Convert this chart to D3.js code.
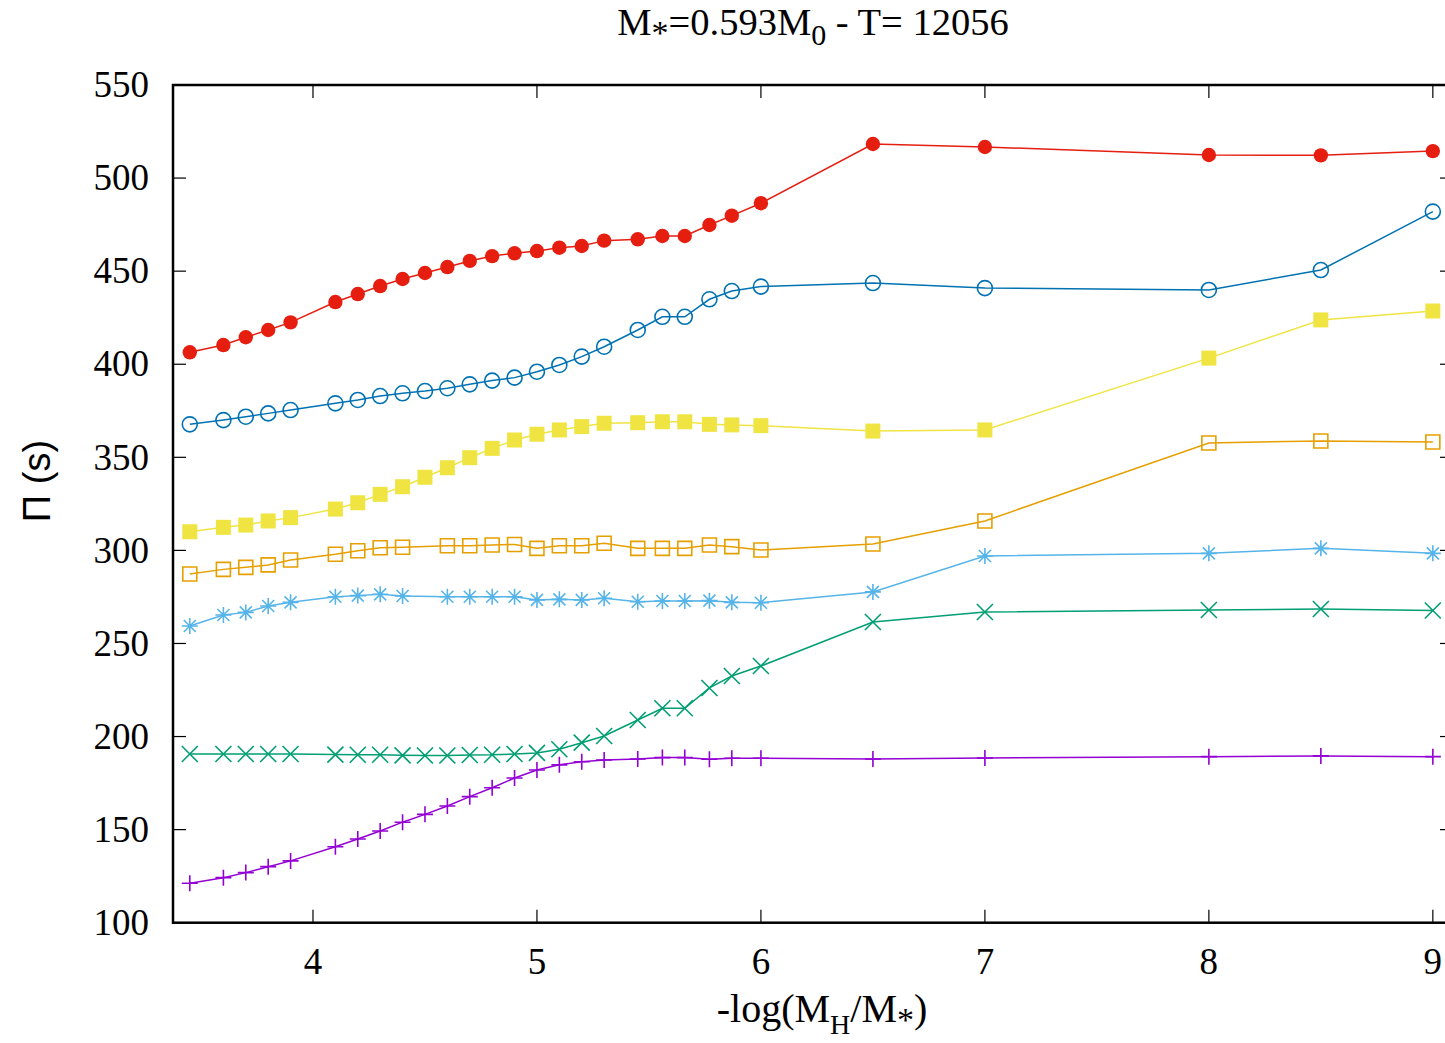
<!DOCTYPE html>
<html>
<head>
<meta charset="utf-8">
<script src="https://cdn.jsdelivr.net/npm/d3@7"></script>
<style>
  body { margin: 0; background: #fff; }
  svg { display: block; }
</style>
</head>
<body>
<div id="chart"></div>
<script>
// -log(MH/M*) values shared by every series
const logMH = [3.45, 3.6, 3.7, 3.8, 3.9, 4.1, 4.2, 4.3, 4.4, 4.5, 4.6, 4.7, 4.8, 4.9, 5.0,
  5.1, 5.2, 5.3, 5.45, 5.56, 5.66, 5.77, 5.87, 6.0, 6.5, 7, 8, 8.5, 9];

// periods (s), null where the mode is missing
const red = [406.4, 410.3, 414.5, 418.4, 422.5, 433.4, 437.7, 442, 445.8, 449, 452.2, 455.5, 458.1, 459.6, 460.8,
  462.6, 463.5, 466.4, 467.1, 468.9, 468.9, 474.8, 479.8, 486.5, 518.3, 516.7, 512.4, 512.2, 514.5];
const blue = [367.7, 370, 371.8, 373.6, 375.4, 379, 380.8, 382.9, 384.4, 385.6, 387.1, 389.2, 391.2, 392.8, 396,
  399.6, 404.1, 409.4, 418.4, 425.5, 425.5, 434.9, 439.3, 441.7, 443.6, 440.9, 439.9, 450.6, 482];
const yellow = [310, 312.4, 313.6, 315.8, 317.6, 322.2, 325.6, 330.1, 334.2, 339.3, 344.4, 349.8, 354.8, 359.3, 362.4,
  364.7, 366.5, 368.3, 368.6, 369.1, 369.1, 367.7, 367.4, 367, 364.1, 364.7, 403.3, 423.8, 428.6];
const orange = [287.3, 289.8, 290.9, 292.2, 294.8, 297.9, 299.8, 301.4, 301.7, null, 302.5, 302.5, 302.9, 303.2, 301.1,
  302.5, 302.5, 303.8, 301.1, 301.1, 301.1, 302.9, 302, 300.2, 303.4, 315.8, 357.7, 358.8, 358.2];
const cyan = [259.4, 265.3, 266.7, 270.1, 272.1, 275.1, 275.7, 276.4, 275.5, null, 275.1, 275.1, 275.1, 275.1, 273.4,
  273.7, 273.4, 274.3, 272.4, 272.8, 272.8, 273, 272.1, 271.9, 277.7, 297, 298.4, 301.1, 298.4];
const green = [190.6, 190.6, 190.6, 190.6, 190.6, 190.3, 190.2, 190.2, 189.9, 189.8, 189.8, 190.1, 190.2, 190.6, 191.2,
  193.2, 196.7, 200.3, 208.9, 215.2, 215.2, 226.1, 232.5, 237.9, 261.5, 266.9, 268, 268.5, 267.7];
const purple = [121.2, 124.2, 126.9, 130.1, 133.2, 140.8, 145, 149.3, 154, 158.2, 162.7, 167.7, 172.5, 177.7, 182,
  184.8, 186.5, 187.4, 187.9, 188.7, 188.7, 187.8, 188.3, 188.3, 187.9, 188.5, 189.2, 189.6, 189.2];

const xTicks = [4, 5, 6, 7, 8, 9];
const yTicks = [100, 150, 200, 250, 300, 350, 400, 450, 500, 550];

const series = [
  { values: purple, color: "#9400d3", point: "plus" },
  { values: green, color: "#009e73", point: "cross" },
  { values: cyan, color: "#56b4e9", point: "star" },
  { values: orange, color: "#e69f00", point: "openSquare" },
  { values: yellow, color: "#f0e442", point: "square" },
  { values: blue, color: "#0072b2", point: "openCircle" },
  { values: red, color: "#e51e10", point: "circle" }
];

const width = 1445, height = 1043;
// plot frame edges (right edge runs just off the canvas, like the original)
const frame = { left: 173, right: 1453, top: 85, bottom: 922.7 };
const serif = "'Liberation Serif', 'Times New Roman', serif";

const x = d3.scaleLinear().domain([3.375, 9.09]).range([frame.left, frame.right]);
const y = d3.scaleLinear().domain([100, 550]).range([frame.bottom, frame.top]);

const svg = d3.select("#chart").append("svg")
  .attr("width", width)
  .attr("height", height);

// tick labels
const axisText = svg.append("g")
  .style("font-family", serif)
  .style("font-size", "37px")
  .style("fill", "#000");

axisText.selectAll(".ylab")
  .data(yTicks)
  .enter().append("text")
  .attr("x", 149)
  .attr("y", d => y(d))
  .attr("dy", "0.33em")
  .attr("text-anchor", "end")
  .text(d => d);

axisText.selectAll(".xlab")
  .data(xTicks)
  .enter().append("text")
  .attr("x", d => x(d))
  .attr("y", 974)
  .attr("text-anchor", "middle")
  .text(d => d);

// ticks on all four sides, pointing inward
const tickLen = 13;
const ticks = svg.append("g").attr("stroke", "#000").attr("stroke-width", 1.2);
ticks.selectAll(".xb").data(xTicks).enter().append("line")
  .attr("x1", d => x(d)).attr("x2", d => x(d))
  .attr("y1", frame.bottom).attr("y2", frame.bottom - tickLen);
ticks.selectAll(".xt").data(xTicks).enter().append("line")
  .attr("x1", d => x(d)).attr("x2", d => x(d))
  .attr("y1", frame.top).attr("y2", frame.top + tickLen);
ticks.selectAll(".yl").data(yTicks).enter().append("line")
  .attr("x1", frame.left).attr("x2", frame.left + tickLen)
  .attr("y1", d => y(d)).attr("y2", d => y(d));
ticks.selectAll(".yr").data(yTicks).enter().append("line")
  .attr("x1", frame.right).attr("x2", frame.right - tickLen)
  .attr("y1", d => y(d)).attr("y2", d => y(d));

// frame
svg.append("rect")
  .attr("x", frame.left).attr("y", frame.top)
  .attr("width", frame.right - frame.left).attr("height", frame.bottom - frame.top)
  .attr("fill", "none")
  .attr("stroke", "#000")
  .attr("stroke-width", 2.5);

// gnuplot-ish point shapes
const s = 8;
const shapes = {
  plus: `M${-s},0H${s}M0,${-s}V${s}`,
  cross: `M${-s},${-s}L${s},${s}M${-s},${s}L${s},${-s}`,
  star: `M${-s},0H${s}M0,${-s}V${s}M${-s * 0.75},${-s * 0.75}L${s * 0.75},${s * 0.75}M${-s * 0.75},${s * 0.75}L${s * 0.75},${-s * 0.75}`,
  openSquare: `M-7,-7H7V7H-7Z`,
  square: `M-7.5,-7.5H7.5V7.5H-7.5Z`,
  openCircle: d3.arc()({ innerRadius: 0, outerRadius: 7.5, startAngle: 0, endAngle: 2 * Math.PI }),
  circle: d3.arc()({ innerRadius: 0, outerRadius: 7.2, startAngle: 0, endAngle: 2 * Math.PI })
};
const filled = { square: true, circle: true };

const line = d3.line()
  .x(d => x(d[0]))
  .y(d => y(d[1]));

series.forEach(sr => {
  const pts = logMH.map((v, i) => [v, sr.values[i]]).filter(d => d[1] != null);
  const g = svg.append("g");
  g.append("path")
    .datum(pts)
    .attr("d", line)
    .attr("fill", "none")
    .attr("stroke", sr.color)
    .attr("stroke-width", 1.5);
  g.selectAll(".pt")
    .data(pts)
    .enter().append("path")
    .attr("transform", d => `translate(${x(d[0])},${y(d[1])})`)
    .attr("d", shapes[sr.point])
    .attr("fill", filled[sr.point] ? sr.color : "none")
    .attr("stroke", sr.color)
    .attr("stroke-width", filled[sr.point] ? 0 : 1.6);
});

// title
const title = svg.append("text")
  .attr("x", (frame.left + frame.right) / 2)
  .attr("y", 35)
  .attr("text-anchor", "middle")
  .style("font-family", serif)
  .style("font-size", "38.5px");
title.append("tspan").text("M");
title.append("tspan").attr("dy", 9).style("font-size", "34px").text("*");
title.append("tspan").attr("dy", -9).text("=0.593M");
title.append("tspan").attr("dy", 10).style("font-size", "30px").text("0");
title.append("tspan").attr("dy", -10).text(" - T= 12056");

// x label
const xl = svg.append("text")
  .attr("x", 822)
  .attr("y", 1022)
  .attr("text-anchor", "middle")
  .style("font-family", serif)
  .style("font-size", "40px");
xl.append("tspan").text("-log(M");
xl.append("tspan").attr("dy", 12).style("font-size", "28px").text("H");
xl.append("tspan").attr("dy", -12).text("/M");
xl.append("tspan").attr("dy", 9).style("font-size", "34px").text("*");
xl.append("tspan").attr("dy", -9).text(")");

// y label
svg.append("text")
  .attr("transform", "translate(50,481) rotate(-90)")
  .attr("text-anchor", "middle")
  .style("font-family", "'Liberation Sans', Arial, sans-serif")
  .style("font-size", "38px")
  .text("Π (s)");
</script>
</body>
</html>
